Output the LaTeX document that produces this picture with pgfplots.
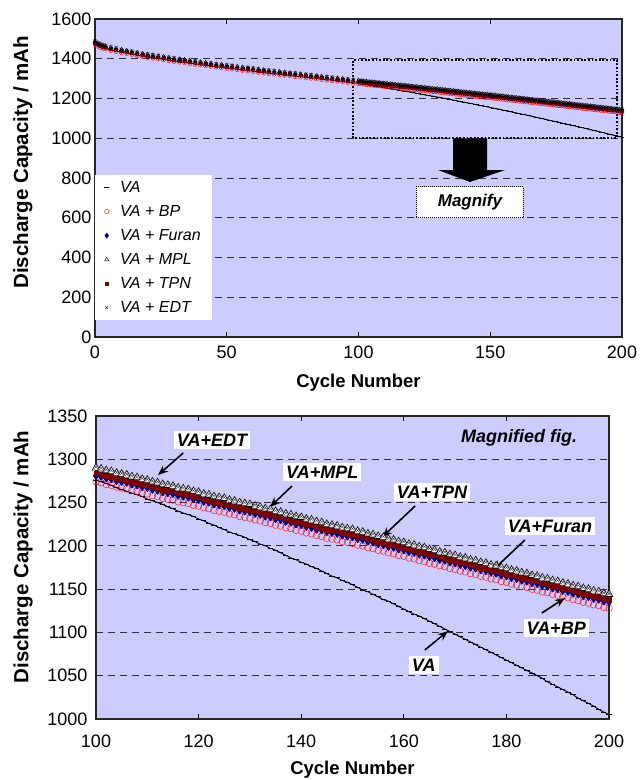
\documentclass[border=0pt]{standalone}
\usepackage{pgfplots}
\pgfplotsset{compat=1.18}
\usepackage{pgfplotstable}
\usepackage{fontspec}
\setmainfont{Liberation Sans}
\usetikzlibrary{arrows.meta}
\definecolor{bgcol}{HTML}{CCCCFF}
\definecolor{gridcol}{HTML}{303048}
\definecolor{navyc}{HTML}{000080}
\definecolor{maroonc}{HTML}{800000}

\pgfplotstableread{
x VA BP Furan MPL TPN EDT
0 1474 1471 1478 1487 1481 1488
1 1466 1463 1470 1479 1473 1480
2 1460 1457 1464 1473 1467 1474
3 1455 1452 1459 1468 1462 1469
4 1451 1448 1455 1464 1458 1465
6 1444 1441 1448 1457 1451 1458
8 1439 1436 1443 1452 1446 1453
10 1433 1430 1437 1446 1440 1447
12 1428 1425 1432 1441 1435 1442
14 1423 1420 1427 1436 1430 1437
16 1418 1415 1422 1431 1425 1432
18 1413 1410 1417 1426 1420 1427
20 1409 1406 1413 1422 1416 1423
22 1405 1402 1409 1418 1412 1419
24 1401 1398 1405 1414 1408 1415
26 1397 1394 1401 1410 1404 1411
28 1393 1390 1397 1406 1400 1407
30 1389 1386 1393 1402 1396 1403
32 1385 1382 1389 1398 1392 1399
34 1382 1379 1386 1395 1389 1396
36 1378 1375 1382 1391 1385 1392
38 1374 1371 1378 1387 1381 1388
40 1371 1368 1375 1384 1378 1385
42 1367 1364 1371 1380 1374 1381
44 1364 1361 1368 1377 1371 1378
46 1360 1357 1364 1373 1367 1374
48 1357 1354 1361 1370 1364 1371
50 1354 1351 1358 1367 1361 1368
52 1351 1348 1355 1364 1358 1365
54 1347 1344 1351 1360 1354 1361
56 1344 1341 1348 1357 1351 1358
58 1341 1338 1345 1354 1348 1355
60 1338 1335 1342 1351 1345 1352
62 1334 1331 1338 1347 1341 1348
64 1331 1328 1335 1344 1338 1345
66 1328 1325 1332 1341 1335 1342
68 1325 1322 1329 1338 1332 1339
70 1322 1319 1326 1335 1329 1336
72 1319 1316 1323 1332 1326 1333
74 1316 1313 1320 1329 1323 1330
76 1313 1310 1317 1326 1320 1327
78 1310 1307 1314 1323 1317 1324
80 1307 1304 1311 1320 1314 1321
82 1304 1301 1308 1317 1311 1318
84 1301 1298 1305 1314 1308 1315
86 1298 1295 1302 1311 1305 1312
88 1295 1292 1299 1308 1302 1309
90 1292 1289 1296 1305 1299 1306
92 1289 1286 1293 1302 1296 1303
94 1286 1283 1290 1299 1293 1300
96 1282 1280 1287 1296 1290 1297
98 1279 1277 1284 1293 1287 1294
100 1276 1274 1281 1290 1284 1291
101 1274 1273 1280 1289 1283 1290
102 1272 1271 1278 1287 1281 1288
103 1270 1270 1277 1286 1280 1287
104 1267 1268 1275 1284 1278 1285
105 1265 1267 1274 1283 1277 1284
106 1263 1266 1273 1282 1276 1283
107 1261 1264 1271 1280 1274 1281
108 1259 1263 1270 1279 1273 1280
109 1257 1261 1268 1277 1271 1278
110 1254 1260 1267 1276 1270 1277
111 1252 1258 1265 1274 1268 1275
112 1250 1257 1264 1273 1267 1274
113 1248 1255 1262 1271 1265 1272
114 1245 1254 1261 1270 1264 1271
115 1243 1253 1260 1269 1263 1270
116 1240 1251 1258 1267 1261 1268
117 1238 1250 1257 1266 1260 1267
118 1236 1249 1256 1265 1259 1266
119 1234 1247 1254 1263 1257 1264
120 1231 1246 1253 1262 1256 1263
121 1229 1244 1251 1260 1254 1261
122 1226 1243 1250 1259 1253 1260
123 1224 1241 1248 1257 1251 1258
124 1221 1240 1247 1256 1250 1257
125 1219 1239 1246 1255 1249 1256
126 1216 1237 1244 1253 1247 1254
127 1214 1236 1243 1252 1246 1253
128 1212 1234 1241 1250 1244 1251
129 1210 1233 1240 1249 1243 1250
130 1207 1232 1239 1248 1242 1249
131 1205 1230 1237 1246 1240 1247
132 1202 1229 1236 1245 1239 1246
133 1200 1227 1234 1243 1237 1244
134 1197 1226 1233 1242 1236 1243
135 1195 1224 1231 1240 1234 1241
136 1192 1223 1230 1239 1233 1240
137 1189 1221 1228 1237 1231 1238
138 1186 1220 1227 1236 1230 1237
139 1184 1218 1225 1234 1228 1235
140 1181 1217 1224 1233 1227 1234
141 1179 1215 1222 1231 1225 1232
142 1176 1214 1221 1230 1224 1231
143 1174 1212 1219 1228 1222 1229
144 1171 1211 1218 1227 1221 1228
145 1168 1209 1216 1225 1219 1226
146 1165 1208 1215 1224 1218 1225
147 1163 1207 1214 1223 1217 1224
148 1160 1205 1212 1221 1215 1222
149 1158 1204 1211 1220 1214 1221
150 1155 1203 1210 1219 1213 1220
151 1152 1201 1208 1217 1211 1218
152 1149 1200 1207 1216 1210 1217
153 1147 1198 1205 1214 1208 1215
154 1144 1197 1204 1213 1207 1214
155 1141 1195 1202 1211 1205 1212
156 1138 1194 1201 1210 1204 1211
157 1136 1192 1199 1208 1202 1209
158 1133 1191 1198 1207 1201 1208
159 1130 1189 1196 1205 1199 1206
160 1127 1188 1195 1204 1198 1205
161 1124 1186 1193 1202 1196 1203
162 1121 1185 1192 1201 1195 1202
163 1119 1183 1190 1199 1193 1200
164 1116 1182 1189 1198 1192 1199
165 1113 1180 1187 1196 1190 1197
166 1110 1179 1186 1195 1189 1196
167 1107 1177 1184 1193 1187 1194
168 1104 1176 1183 1192 1186 1193
169 1101 1174 1181 1190 1184 1191
170 1098 1173 1180 1189 1183 1190
171 1095 1171 1178 1187 1181 1188
172 1092 1170 1177 1186 1180 1187
173 1089 1168 1175 1184 1178 1185
174 1086 1167 1174 1183 1177 1184
175 1083 1165 1172 1181 1175 1182
176 1080 1164 1171 1180 1174 1181
177 1077 1162 1169 1178 1172 1179
178 1074 1161 1168 1177 1171 1178
179 1071 1159 1166 1175 1169 1176
180 1068 1158 1165 1174 1168 1175
181 1065 1156 1163 1172 1166 1173
182 1062 1155 1162 1171 1165 1172
183 1059 1153 1160 1169 1163 1170
184 1056 1152 1159 1168 1162 1169
185 1053 1150 1157 1166 1160 1167
186 1050 1149 1156 1165 1159 1166
187 1047 1147 1154 1163 1157 1164
188 1043 1146 1153 1162 1156 1163
189 1040 1144 1151 1160 1154 1161
190 1037 1143 1150 1159 1153 1160
191 1034 1141 1148 1157 1151 1158
192 1031 1140 1147 1156 1150 1157
193 1028 1138 1145 1154 1148 1155
194 1024 1137 1144 1153 1147 1154
195 1021 1135 1142 1151 1145 1152
196 1018 1134 1141 1150 1144 1151
197 1015 1132 1139 1148 1142 1149
198 1011 1131 1138 1147 1141 1148
199 1008 1129 1136 1145 1139 1146
200 1005 1128 1135 1144 1138 1145
}\data

\pgfplotsset{
  mystyle/.style={
    scale only axis,
    axis background/.style={fill=bgcol},
    axis line style={line width=1.2pt, black!85},
    ymajorgrids,
    major grid style={gridcol, line width=1pt, dash pattern=on 7pt off 5pt},
    tick label style={font=\fontsize{18}{20}\selectfont},
    /pgf/number format/assume math mode=true,
    /pgf/number format/1000 sep={},
    scaled ticks=false,
    xlabel style={font=\bfseries\fontsize{18.5}{21}\selectfont},
    ylabel style={font=\bfseries\fontsize{20.5}{23}\selectfont},
    tick align=inside,
    xtick style={black, line width=1pt},
    major tick length=5pt,
    ytick style={draw=none},
  },
}
\tikzset{
  annot/.style={fill=white, inner sep=3pt, font=\bfseries\itshape\fontsize{18}{21}\selectfont},
  arr/.style={-{Stealth[length=10pt,width=8pt]}, line width=1.6pt, black},
}

\begin{document}
\begin{tikzpicture}
\path[use as bounding box] (0,0) rectangle (642pt,-780pt);

% ---------------- top chart ----------------
\begin{axis}[mystyle,
  at={(95pt,-19pt)}, anchor=north west,
  width=527pt, height=318pt,
  xmin=0, xmax=200, ymin=0, ymax=1600,
  xtick={0,50,...,200}, ytick={0,200,...,1600},
  xticklabel style={yshift=-5pt},
  xlabel={Cycle Number}, ylabel={Discharge Capacity / mAh},
  xlabel style={at={(axis description cs:0.5,-0.145)}, anchor=center},
  ylabel style={at={(axis description cs:-0.137,0.55)}, anchor=center},
  legend cell align=left,
  legend style={at={(axis description cs:0,0.509)}, anchor=north west,
    draw=none, fill=white, font=\itshape\fontsize{16}{19}\selectfont,
    inner xsep=9pt, inner ysep=4pt, row sep=7.5pt,
    /tikz/every odd column/.append style={column sep=9pt},
    /tikz/every even column/.append style={column sep=8pt}},
]
\addplot[black, line width=0.9pt, mark=-, mark size=1.5pt, forget plot] table[x=x,y=VA]{\data};
\addplot[only marks, mark=o, red, mark size=2pt, forget plot] table[x=x,y=BP]{\data};
\addplot[only marks, mark=diamond*, navyc, mark size=2pt, forget plot] table[x=x,y=Furan]{\data};
\addplot[only marks, mark=square*, maroonc, mark size=1.4pt, forget plot] table[x=x,y=TPN]{\data};
\addplot[only marks, mark=triangle, black, mark size=2.4pt, forget plot] table[x=x,y=MPL]{\data};
\addplot[only marks, mark=x, black, mark size=2.3pt, forget plot] table[x=x,y=EDT]{\data};

\addlegendimage{only marks, mark=-, black, mark size=2.5pt, line width=1pt}
\addlegendentry{VA}
\addlegendimage{only marks, mark=o, red, mark size=2.2pt}
\addlegendentry{VA + BP}
\addlegendimage{only marks, mark=diamond*, navyc, mark size=2.6pt}
\addlegendentry{VA + Furan}
\addlegendimage{only marks, mark=triangle, black, mark size=2.4pt}
\addlegendentry{VA + MPL}
\addlegendimage{only marks, mark=square*, maroonc, mark size=1.8pt}
\addlegendentry{VA + TPN}
\addlegendimage{only marks, mark=x, black, mark size=2.2pt}
\addlegendentry{VA + EDT}

\draw[black, line width=1.8pt, dash pattern=on 1.8pt off 1.8pt] (axis cs:98,1000) rectangle (axis cs:198,1395);
\fill[black] (axis cs:135.9,1000) -- (axis cs:148.8,1000) -- (axis cs:148.8,840)
  -- (axis cs:155.6,840) -- (axis cs:142.3,780) -- (axis cs:130.2,840)
  -- (axis cs:135.9,840) -- cycle;
\node[draw=black, dash pattern=on 1pt off 1pt, line width=1pt, fill=white,
  minimum width=107pt, minimum height=31pt,
  font=\bfseries\itshape\fontsize{17}{20}\selectfont] at (axis cs:142.3,679) {Magnify};
\end{axis}

% ---------------- bottom chart ----------------
\begin{axis}[mystyle,
  at={(96pt,-416pt)}, anchor=north west,
  width=513pt, height=303pt,
  xmin=100, xmax=200, ymin=1000, ymax=1350,
  xtick={100,120,...,200}, ytick={1000,1050,...,1350},
  xticklabel style={yshift=-12pt},
  yticklabel style={xshift=-5pt},
  xlabel={Cycle Number}, ylabel={Discharge Capacity / mAh},
  xlabel style={at={(axis description cs:0.5,-0.168)}, anchor=center},
  ylabel style={at={(axis description cs:-0.142,0.535)}, anchor=center},
]
\addplot[black, line width=0.9pt, mark=-, mark size=2.6pt] table[x=x,y=VA]{\data};
\addplot[only marks, mark=o, red, mark size=3.4pt, mark options={fill=white}] table[x=x,y=BP]{\data};
\addplot[only marks, mark=diamond*, navyc, mark size=3.8pt] table[x=x,y=Furan]{\data};
\addplot[only marks, mark=square*, maroonc, mark size=2.3pt] table[x=x,y=TPN]{\data};
\addplot[only marks, mark=triangle*, black, mark size=4.4pt, mark options={fill=white, line width=0.6pt}] table[x=x,y=MPL]{\data};
\addplot[only marks, mark=x, black!75, mark size=2.8pt] table[x=x,y=EDT]{\data};

\node[annot] at (axis cs:122.6,1322.3) {VA+EDT};
\draw[arr] (axis cs:117.0,1307.3) -- (axis cs:112.1,1281.8);
\node[annot] at (axis cs:144.1,1285.3) {VA+MPL};
\draw[arr] (axis cs:138.2,1269.1) -- (axis cs:133.9,1244.9);
\node[annot] at (axis cs:165.5,1262.2) {VA+TPN};
\draw[arr] (axis cs:162.2,1246.0) -- (axis cs:155.8,1210.2);
\node[annot] at (axis cs:188.5,1222.9) {VA+Furan};
\draw[arr] (axis cs:183.6,1206.8) -- (axis cs:177.4,1172.1);
\node[annot] at (axis cs:189.7,1105.1) {VA+BP};
\draw[arr] (axis cs:186.9,1122.4) -- (axis cs:191.4,1139.8);
\node[annot] at (axis cs:163.9,1062.4) {VA};
\draw[arr] (axis cs:164.1,1079.7) -- (axis cs:168.6,1101.6);
\node[font=\bfseries\itshape\fontsize{18}{21}\selectfont] at (axis cs:182.5,1324.6) {Magnified fig.};
\end{axis}
\end{tikzpicture}
\end{document}
